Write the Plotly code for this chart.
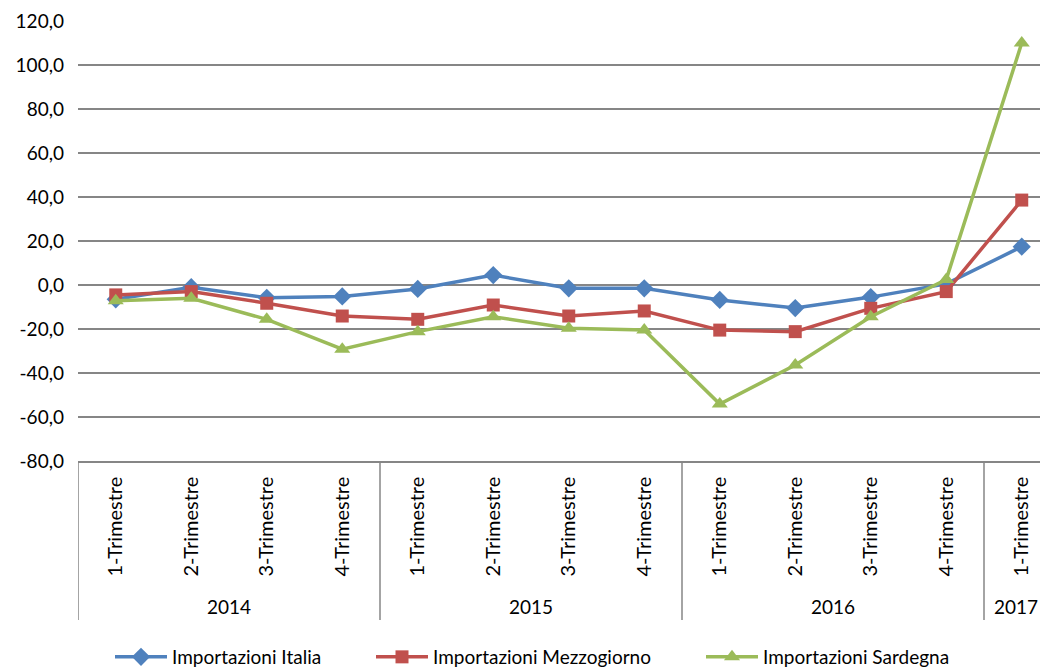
import plotly.graph_objects as go

quarters = ["1-Trimestre", "2-Trimestre", "3-Trimestre", "4-Trimestre",
            "1-Trimestre", "2-Trimestre", "3-Trimestre", "4-Trimestre",
            "1-Trimestre", "2-Trimestre", "3-Trimestre", "4-Trimestre",
            "1-Trimestre"]
years = ["2014", "2015", "2016", "2017"]
year_counts = [4, 4, 4, 1]

italia = [-6.5, -1.0, -5.8, -5.2, -1.8, 4.5, -1.5, -1.5, -6.8, -10.5, -5.5, 0.5, 17.4]
mezzogiorno = [-4.5, -3.0, -8.3, -14.1, -15.6, -9.1, -14.1, -11.8, -20.5, -21.2, -10.6, -3.0, 38.6]
sardegna = [-7.2, -6.0, -15.6, -29.2, -21.2, -14.4, -19.7, -20.5, -54.1, -36.4, -14.4, 2.5, 110.0]

y_ticks = [-80, -60, -40, -20, 0, 20, 40, 60, 80, 100, 120]
y_tick_text = ["-80,0", "-60,0", "-40,0", "-20,0", "0,0", "20,0", "40,0",
               "60,0", "80,0", "100,0", "120,0"]

FONT = "Lato, 'Noto Sans', sans-serif"
FS = 19
x = list(range(len(quarters)))

# page offset of 8px (body margin) -> plot area at page x 78..1040, y 21..461
PL, PT, PH = 78, 21, 440
FIG_W, FIG_H = 1032, 661
PW = FIG_W + 8 - PL
UNIT = 75.5

def px_x(px):
    return (px - PL) / PW

def px_y(py):
    return (PT + PH - py) / PH

fig = go.Figure()
series = [
    ("Importazioni Italia", italia, "#4F81BD", "diamond", 14, "legend", 115),
    ("Importazioni Mezzogiorno", mezzogiorno, "#C0504D", "square", 13, "legend2", 376),
    ("Importazioni Sardegna", sardegna, "#9BBB59", "triangle-up", 14, "legend3", 706),
]
legends = {}
for name, vals, col, sym, sz, lg, lx in series:
    fig.add_trace(go.Scatter(
        x=x, y=vals, name=name, mode="lines+markers",
        line=dict(color=col, width=3.5),
        marker=dict(symbol=sym, size=sz, color=col),
        legend=lg,
    ))
    legends[lg] = dict(orientation="h", x=px_x(lx - 5), xanchor="left",
                       y=px_y(657), yanchor="middle",
                       font=dict(size=FS, family=FONT, color="#000"),
                       itemwidth=52, bgcolor="rgba(0,0,0,0)")

shapes = []
annotations = []
start = 0
bounds = [-0.5]
for yr, cnt in zip(years, year_counts):
    end = start + cnt
    bounds.append(end - 0.5)
    if cnt == 1:
        ann = dict(x=1.0, xref="paper", xanchor="right")
    else:
        ann = dict(x=(start + end - 1) / 2, xref="x", xanchor="center")
    annotations.append(dict(
        y=px_y(606), yref="paper", text=yr, showarrow=False,
        font=dict(size=FS, color="#000", family=FONT), yanchor="middle", **ann))
    start = end
for b in bounds[:-1]:
    shapes.append(dict(type="line", xref="x", yref="paper", x0=b, x1=b,
                       y0=0, y1=px_y(620), line=dict(color="#868686", width=1.5)))

fig.update_layout(
    width=FIG_W, height=FIG_H,
    margin=dict(l=PL - 8, r=0, t=PT - 8, b=FIG_H - (PT - 8) - PH, autoexpand=False),
    paper_bgcolor="white", plot_bgcolor="white",
    font=dict(family=FONT, size=FS, color="#000"),
    showlegend=True,
    shapes=shapes,
    annotations=annotations,
    xaxis=dict(
        range=[-0.5, -0.5 + PW / UNIT], tickmode="array", tickvals=x, ticktext=quarters,
        tickangle=-90, showgrid=False, zeroline=False, showline=True,
        linecolor="#868686", linewidth=1.5, ticks="", ticklabelstandoff=6,
        tickfont=dict(size=20, family=FONT), automargin=False,
    ),
    yaxis=dict(
        range=[-80, 120], tickmode="array", tickvals=y_ticks, ticktext=y_tick_text,
        showgrid=True, gridcolor="#868686", gridwidth=1.5, zeroline=False,
        showline=False, ticks="", ticklabelstandoff=13,
        tickfont=dict(size=FS, family=FONT), automargin=False,
    ),
    **legends,
)

fig.write_html("out.html")
